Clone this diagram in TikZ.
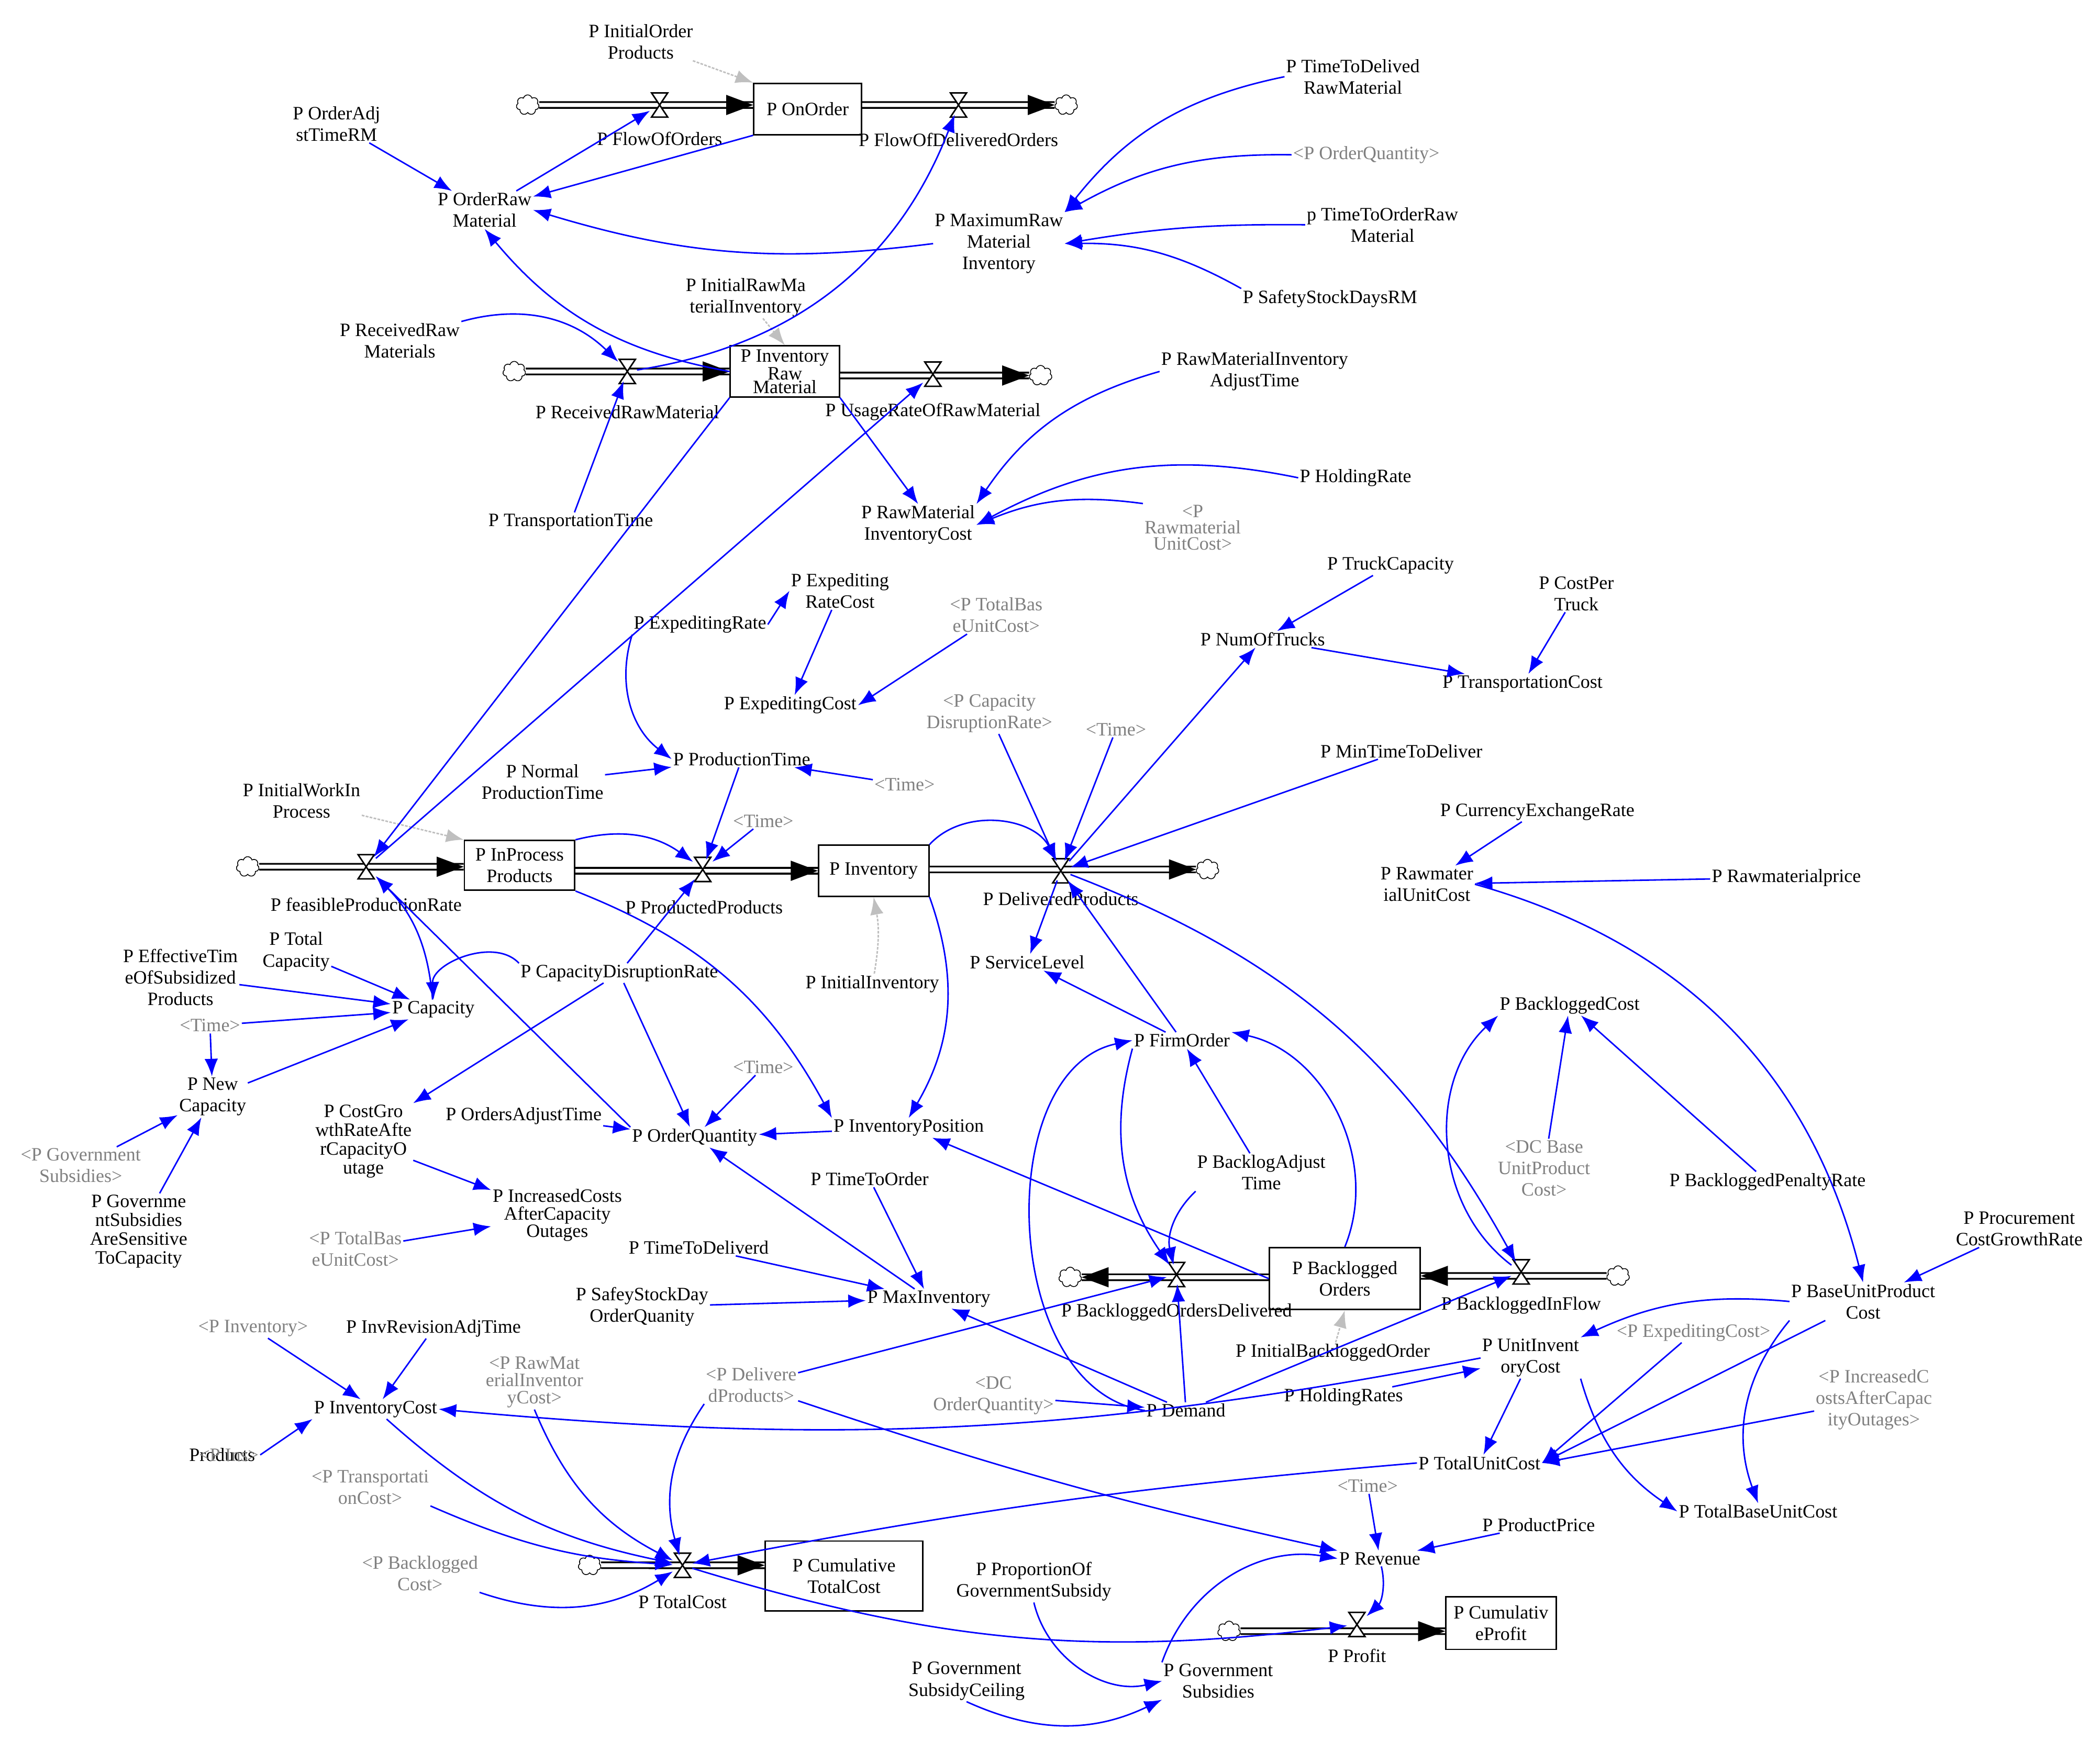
\documentclass[tikz,border=0pt]{standalone}
\usepackage{fontspec}
\setmainfont{Liberation Serif}
\usetikzlibrary{arrows.meta,shapes.symbols,calc}
\begin{document}
\begin{tikzpicture}[x=1pt,y=-1pt,
 v/.style={align=center,inner sep=1pt,font=\fontsize{14}{16}\selectfont},
 sh/.style={v,text=gray},
 stock/.style={draw,line width=1.1pt,align=center,inner sep=1pt,font=\fontsize{14}{16}\selectfont},
 valve/.style={inner sep=0pt,minimum size=14pt},
 cl/.style={cloud,draw,cloud puffs=7,minimum width=17pt,minimum height=15pt,inner sep=0pt,line width=0.6pt},
 pipe/.style={line width=1.3pt,double distance=3pt},
 ah/.style={-{Triangle[length=20pt,width=15pt]},line width=0.01pt},
 l/.style={blue,line width=1.1pt,-{Latex[length=13pt,width=10pt]}},
 g/.style={gray!50,line width=1.1pt,dash pattern=on 2pt off 1pt,-{Latex[length=13pt,width=10pt]}}]
\useasboundingbox (0,0) rectangle (1560,1293.5);
\newcommand\vlv[2]{\node[valve] (#1) at (#2) {};
 \draw[line width=1.1pt,fill=white] ([shift={(-6,-9)}]#1.center) -- ++(12,0) -- ++(-12,18) -- ++(12,0) -- cycle;}
% ===== stocks
\node[stock,minimum width=80pt,minimum height=38pt] (OnOrder) at (600,81) {P OnOrder};
\node[stock,minimum width=81pt,minimum height=38pt,font=\fontsize{14}{10}\selectfont] (InvRM) at (583,276) {P Inventory\\Raw\\Material};
\node[stock,minimum width=82pt,minimum height=37pt] (InProc) at (386,643) {P InProcess\\Products};
\node[stock,minimum width=82pt,minimum height=38pt] (Inv) at (649,647) {P Inventory};
\node[stock,minimum width=112pt,minimum height=46pt] (Backlog) at (999,950) {P Backlogged\\Orders};
\node[stock,minimum width=117pt,minimum height=52pt] (CumTC) at (627,1171) {P Cumulative\\TotalCost};
\node[stock,minimum width=82pt,minimum height=39pt] (CumP) at (1115,1206) {P Cumulativ\\eProfit};
% ===== clouds
\node[cl] (c1) at (392,78) {}; \node[cl] (c2) at (792,78) {};
\node[cl] (c3) at (382,276) {}; \node[cl] (c4) at (773,279) {};
\node[cl] (c5) at (184,644) {}; \node[cl] (c6) at (897,646) {};
\node[cl] (c7) at (795,949) {}; \node[cl] (c8) at (1202,948) {};
\node[cl] (c9) at (438,1163) {}; \node[cl] (c10) at (913,1212) {};
% ===== pipes
\draw[pipe] (c1.east) -- (c1 -| OnOrder.west); \draw[ah] ($(c1 -| OnOrder.west)+(-20,0)$) -- (c1 -| OnOrder.west);
\draw[pipe] (OnOrder.east |- c2) -- (c2.west); \draw[ah] ($(c2.west)+(-20,0)$) -- (c2.west);
\draw[pipe] (c3.east) -- (c3 -| InvRM.west); \draw[ah] ($(c3 -| InvRM.west)+(-20,0)$) -- (c3 -| InvRM.west);
\draw[pipe] (InvRM.east |- c4) -- (c4.west); \draw[ah] ($(c4.west)+(-20,0)$) -- (c4.west);
\draw[pipe] (c5.east) -- (c5 -| InProc.west); \draw[ah] ($(c5 -| InProc.west)+(-20,0)$) -- (c5 -| InProc.west);
\draw[pipe] (InProc.east |- Inv.west) -- (Inv.west); \draw[ah] ($(Inv.west)+(-20,0)$) -- (Inv.west);
\draw[pipe] (Inv.east |- c6) -- (c6.west); \draw[ah] ($(c6.west)+(-20,0)$) -- (c6.west);
\draw[pipe] (Backlog.west |- c7) -- (c7.east); \draw[ah] ($(c7.east)+(20,0)$) -- (c7.east);
\draw[pipe] (c8.west) -- (c8 -| Backlog.east); \draw[ah] ($(c8 -| Backlog.east)+(20,0)$) -- (c8 -| Backlog.east);
\draw[pipe] (c9.east) -- (c9 -| CumTC.west); \draw[ah] ($(c9 -| CumTC.west)+(-20,0)$) -- (c9 -| CumTC.west);
\draw[pipe] (c10.east) -- (c10 -| CumP.west); \draw[ah] ($(c10 -| CumP.west)+(-20,0)$) -- (c10 -| CumP.west);
% ===== valves
\vlv{vOrd}{490,78} \vlv{vDelO}{712,78} \vlv{vRecv}{466,276} \vlv{vUse}{693,278}
\vlv{vFeas}{272,644} \vlv{vProd}{522,646} \vlv{vDelP}{788,647} \vlv{vBOD}{874,947}
\vlv{vBIF}{1130,945} \vlv{vTC}{507,1163} \vlv{vProfit}{1008,1207}
% ===== valve labels
\node[v] (lOrd) at (490,103) {P FlowOfOrders};
\node[v] (lDelO) at (712,104) {P FlowOfDeliveredOrders};
\node[v] (lRecv) at (466,306) {P ReceivedRawMaterial};
\node[v] (lUse) at (693,306) {P UsageRateOfRawMaterial};
\node[v] (lFeas) at (272,672) {P feasibleProductionRate};
\node[v] (lProd) at (523,674) {P ProductedProducts};
\node[v] (lDelP) at (788,668) {P DeliveredProducts};
\node[v] (lBOD) at (874,975) {P BackloggedOrdersDelivered};
\node[v] (lBIF) at (1130,970) {P BackloggedInFlow};
\node[v] (lTC) at (507,1190) {P TotalCost};
\node[v] (lProfit) at (1008,1230) {P Profit};
% ===== variables
\node[v] (InitOrder) at (476,31) {P InitialOrder\\Products};
\node[v] (OrderAdj) at (250,92) {P OrderAdj\\stTimeRM};
\node[v] (OrderRaw) at (360,156) {P OrderRaw\\Material};
\node[v] (TTDRM) at (1005,57) {P TimeToDelived\\RawMaterial};
\node[sh] (sOQ) at (1015,115) {<P OrderQuantity>};
\node[v] (TTORM) at (1027,167) {p TimeToOrderRaw\\Material};
\node[v] (MaxRaw) at (742,181) {P MaximumRaw\\Material\\Inventory};
\node[v] (SSDRM) at (988,222) {P SafetyStockDaysRM};
\node[v] (InitRM) at (554,221) {P InitialRawMa\\terialInventory};
\node[v] (RecRaw) at (297,253) {P ReceivedRaw\\Materials};
\node[v] (TransT) at (424,388) {P TransportationTime};
\node[v] (RMIAT) at (932,276) {P RawMaterialInventory\\AdjustTime};
\node[v] (HoldR) at (1007,355) {P HoldingRate};
\node[sh,font=\fontsize{14}{12}\selectfont] (sRMUC) at (886,392) {<P\\Rawmaterial\\UnitCost>};
\node[v] (RMIC) at (682,390) {P RawMaterial\\InventoryCost};
\node[v] (ExpRC) at (624,439) {P Expediting\\RateCost};
\node[sh] (sTBUC1) at (740,457) {<P TotalBas\\eUnitCost>};
\node[v] (ExpR) at (520,464) {P ExpeditingRate};
\node[v] (ExpC) at (587,524) {P ExpeditingCost};
\node[v] (TruckCap) at (1033,420) {P TruckCapacity};
\node[v] (CPT) at (1171,441) {P CostPer\\Truck};
\node[v] (NumTr) at (938,475) {P NumOfTrucks};
\node[v] (TransC) at (1131,508) {P TransportationCost};
\node[sh] (sCDR) at (735,530) {<P Capacity\\DisruptionRate>};
\node[sh] (sT1) at (829,542) {<Time>};
\node[v] (MinTTD) at (1041,558) {P MinTimeToDeliver};
\node[v] (ProdT) at (551,564) {P ProductionTime};
\node[sh] (sT2) at (672,583) {<Time>};
\node[v] (NormPT) at (403,581) {P Normal\\ProductionTime};
\node[v] (InitWIP) at (224,595) {P InitialWorkIn\\Process};
\node[sh] (sT3) at (567,610) {<Time>};
\node[v] (CER) at (1142,603) {P CurrencyExchangeRate};
\node[v] (RMUC) at (1060,657) {P Rawmater\\ialUnitCost};
\node[v] (RMP) at (1327,652) {P Rawmaterialprice};
\node[v] (TotCap) at (220,707) {P Total\\Capacity};
\node[v] (EffT) at (134,726) {P EffectiveTim\\eOfSubsidized\\Products};
\node[v] (Cap) at (322,750) {P Capacity};
\node[sh] (sT4) at (156,762) {<Time>};
\node[v] (CDR) at (460,723) {P CapacityDisruptionRate};
\node[v] (InitInv) at (648,731) {P InitialInventory};
\node[v] (SL) at (763,715) {P ServiceLevel};
\node[v] (BLC) at (1166,747) {P BackloggedCost};
\node[v] (FO) at (878,773) {P FirmOrder};
\node[v] (NewCap) at (158,815) {P New\\Capacity};
\node[sh] (sT5) at (567,793) {<Time>};
\node[v,font=\fontsize{14}{14}\selectfont] (CGR) at (270,848) {P CostGro\\wthRateAfte\\rCapacityO\\utage};
\node[v] (OAT) at (389,829) {P OrdersAdjustTime};
\node[v] (OQ) at (516,845) {P OrderQuantity};
\node[v] (IP) at (675,838) {P InventoryPosition};
\node[sh] (sGS) at (60,866) {<P Government\\Subsidies>};
\node[v] (BAT) at (937,871) {P BacklogAdjust\\Time};
\node[sh] (sDCB) at (1147,868) {<DC Base\\UnitProduct\\Cost>};
\node[v] (BPR) at (1313,878) {P BackloggedPenaltyRate};
\node[v] (TTO) at (646,876) {P TimeToOrder};
\node[v,font=\fontsize{14}{14}\selectfont] (GSS) at (103,915) {P Governme\\ntSubsidies\\AreSensitive\\ToCapacity};
\node[v,font=\fontsize{14}{13}\selectfont] (ICAO) at (414,903) {P IncreasedCosts\\AfterCapacity\\Outages};
\node[v] (PCGR) at (1500,913) {P Procurement\\CostGrowthRate};
\node[sh] (sTBUC2) at (264,928) {<P TotalBas\\eUnitCost>};
\node[v] (TTDd) at (519,927) {P TimeToDeliverd};
\node[v] (SSDOQ) at (477,971) {P SafeyStockDay\\OrderQuanity};
\node[v] (MaxInv) at (690,965) {P MaxInventory};
\node[v] (BUPC) at (1384,967) {P BaseUnitProduct\\Cost};
\node[v] (IBO) at (990,1005) {P InitialBackloggedOrder};
\node[sh] (sInv) at (188,987) {<P Inventory>};
\node[v] (IRAT) at (322,987) {P InvRevisionAdjTime};
\node[v] (UIC) at (1137,1009) {P UnitInvent\\oryCost};
\node[sh] (sEC) at (1258,990) {<P ExpeditingCost>};
\node[sh,font=\fontsize{14}{13}\selectfont] (sRMIC) at (397,1027) {<P RawMat\\erialInventor\\yCost>};
\node[sh] (sDP) at (558,1029) {<P Delivere\\dProducts>};
\node[sh] (sDCOQ) at (738,1037) {<DC\\OrderQuantity>};
\node[v] (Dem) at (881,1048) {P Demand};
\node[v] (HRs) at (998,1038) {P HoldingRates};
\node[sh] (sICAO) at (1392,1040) {<P IncreasedC\\ostsAfterCapac\\ityOutages>};
\node[v] (InvC) at (279,1047) {P InventoryCost};
\node[v] (TUC) at (1099,1087) {P TotalUnitCost};
\node[v] (xProd) at (165,1081) {Products};
\node[sh] (sIns) at (170,1081) {<P Ins>};
\node[sh] (sTC) at (275,1105) {<P Transportati\\onCost>};
\node[sh] (sT6) at (1016,1104) {<Time>};
\node[v] (PP) at (1143,1133) {P ProductPrice};
\node[v] (TBUC) at (1306,1123) {P TotalBaseUnitCost};
\node[sh] (sBLC) at (312,1169) {<P Backlogged\\Cost>};
\node[v] (Rev) at (1025,1158) {P Revenue};
\node[v] (POGS) at (768,1175) {P ProportionOf\\GovernmentSubsidy};
\node[v] (GSC) at (718,1249) {P Government\\SubsidyCeiling};
\node[v] (GS) at (905,1249) {P Government\\Subsidies};
% ===== initial-value links
\draw[g] (InitOrder) -- (OnOrder.north west);
\draw[g] (InitRM) -- (InvRM.north);
\draw[g] (InitWIP) -- (InProc.north west);
\draw[g] (InitInv) to[bend right=10] (Inv.south);
\draw[g] (IBO) -- (Backlog.south);
% ===== links
\draw[l] (OrderAdj) -- (OrderRaw);
\draw[l] (OrderRaw) -- (vOrd);
\draw[l] (OnOrder.south west) -- (OrderRaw);
\draw[l] (TTDRM.west) to[bend right=20] (MaxRaw.north east);
\draw[l] (sOQ.west) to[bend right=15] (MaxRaw.north east);
\draw[l] (TTORM.west) to[bend right=5] (MaxRaw.east);
\draw[l] (SSDRM.north west) to[bend right=15] (MaxRaw.east);
\draw[l] (MaxRaw.west) to[bend left=12] (OrderRaw.east);
\draw[l] (InvRM.west) to[bend left=20] (OrderRaw.south);
\draw[l] (vRecv) to[bend right=30] (vDelO);
\draw[l] (RecRaw.north east) to[bend left=30] (vRecv);
\draw[l] (TransT) -- (vRecv);
\draw[l] (InvRM.south east) -- (RMIC.north);
\draw[l] (RMIAT.west) to[bend right=20] (RMIC.north east);
\draw[l] (HoldR.west) to[bend right=20] (RMIC.east);
\draw[l] (sRMUC.north west) to[bend right=15] (RMIC.east);
\draw[l] (InvRM.south west) -- (vFeas);
\draw[l] (vFeas) -- (vUse);
\draw[l] (ExpR.south west) to[bend right=35] (ProdT.west);
\draw[l] (ExpR.east) -- (ExpRC.west);
\draw[l] (ExpRC) -- (ExpC);
\draw[l] (sTBUC1) -- (ExpC.east);
\draw[l] (NormPT) -- (ProdT);
\draw[l] (sT2) -- (ProdT);
\draw[l] (ProdT) -- (vProd);
\draw[l] (sT3) -- (vProd);
\draw[l] (InProc.north east) to[bend left=25] (vProd);
\draw[l] (TruckCap) -- (NumTr);
\draw[l] (CPT) -- (TransC);
\draw[l] (NumTr) -- (TransC);
\draw[l] (vDelP) -- (NumTr);
\draw[l] (sCDR) -- (vDelP);
\draw[l] (sT1) -- (vDelP);
\draw[l] (MinTTD) -- (vDelP);
\draw[l] (Inv.north east) to[bend left=55] (vDelP);
\draw[l] (vDelP) -- (SL);
\draw[l] (FO) -- (vDelP);
\draw[l] (vDelP) to[bend left=20] (vBIF);
\draw[l] (CER) -- (RMUC);
\draw[l] (RMP) -- (RMUC);
\draw[l] (RMUC.east) to[bend left=30] (BUPC.north);
\draw[l] (TotCap) -- (Cap);
\draw[l] (EffT) -- (Cap);
\draw[l] (sT4) -- (Cap);
\draw[l] (sT4) -- (NewCap);
\draw[l] (NewCap) -- (Cap);
\draw[l] (Cap) to[bend right=20] (vFeas);
\draw[l] (sGS) -- (NewCap);
\draw[l] (GSS) -- (NewCap);
\draw[l] (CDR.north west) to[bend right=70] (Cap.north);
\draw[l] (CDR) -- (vProd);
\draw[l] (CDR) -- (OQ);
\draw[l] (CDR) -- (CGR.north east);
\draw[l] (OQ.north west) -- (vFeas);
\draw[l] (InProc.south east) to[bend left=20] (IP.north west);
\draw[l] (Inv.south east) to[bend left=25] (IP.north);
\draw[l] (IP) -- (OQ);
\draw[l] (sT5) -- (OQ);
\draw[l] (OAT) -- (OQ);
\draw[l] (MaxInv) -- (OQ);
\draw[l] (TTO) -- (MaxInv);
\draw[l] (TTDd) -- (MaxInv);
\draw[l] (SSDOQ) -- (MaxInv);
\draw[l] (Dem) -- (MaxInv);
\draw[l] (CGR) -- (ICAO);
\draw[l] (sTBUC2) -- (ICAO);
\draw[l] (FO) -- (SL);
\draw[l] (Backlog.west) -- (IP);
\draw[l] (BAT.south west) to[bend right=30] (vBOD);
\draw[l] (FO.south west) to[bend right=25] (vBOD);
\draw[l] (Backlog.north) to[bend right=50] (FO.north east);
\draw[l] (BAT) -- (FO);
\draw[l] (Dem.west) to[bend left=80] (FO.west);
\draw[l] (Dem) -- (vBOD);
\draw[l] (Dem) -- (vBIF);
\draw[l] (vBIF) to[bend left=50] (BLC.south west);
\draw[l] (sDCB) -- (BLC);
\draw[l] (BPR) -- (BLC);
\draw[l] (PCGR) -- (BUPC);
\draw[l] (sDCOQ) -- (Dem);
\draw[l] (BUPC.west) to[bend right=15] (UIC.north east);
\draw[l] (BUPC) -- (TUC.east);
\draw[l] (BUPC.south west) to[bend right=30] (TBUC.north);
\draw[l] (UIC) -- (TUC);
\draw[l] (UIC.south east) to[bend right=20] (TBUC.west);
\draw[l] (sEC) -- (TUC.east);
\draw[l] (sICAO) -- (TUC.east);
\draw[l] (HRs) -- (UIC);
\draw[l] (UIC.west) to[bend left=8] (InvC.east);
\draw[l] (sDP) -- (vBOD);
\draw[l] (sDP) to[bend right=3] (Rev.north west);
\draw[l] (sDP.south west) to[bend right=25] (vTC);
\draw[l] (InvC) to[bend right=15] (vTC);
\draw[l] (sRMIC.south) to[bend right=20] (vTC);
\draw[l] (sTC.south east) to[bend right=10] (vTC);
\draw[l] (sBLC.south east) to[bend right=25] (vTC);
\draw[l] (TUC.west) to[bend right=3] (vTC);
\draw[l] (sInv) -- (InvC);
\draw[l] (IRAT) -- (InvC);
\draw[l] (sIns.east) -- (InvC.south west);
\draw[l] (sT6) -- (Rev);
\draw[l] (PP) -- (Rev);
\draw[l] (Rev) to[bend left=30] (vProfit);
\draw[l] (vTC) to[bend right=12] (vProfit);
\draw[l] (GS.north west) to[bend left=40] (Rev.west);
\draw[l] (POGS.south) to[bend right=45] (GS.west);
\draw[l] (GSC.south) to[bend right=25] (GS.south west);
\end{tikzpicture}
\end{document}
